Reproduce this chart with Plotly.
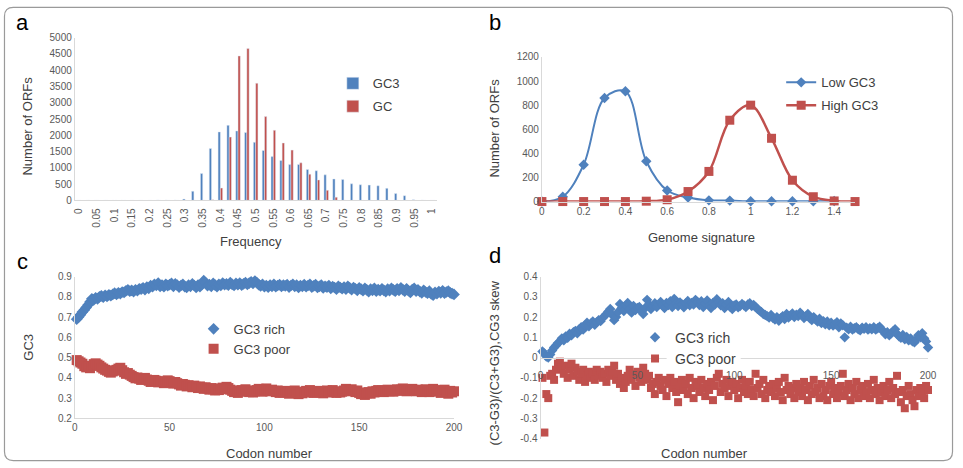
import plotly.graph_objects as go

W, H = 963, 468
def px(x): return x / W
def py(y): return 1 - y / H

BLUE = "#4F81BD"
RED = "#C0504D"
AX = "#D9D9D9"
TICK = "#595959"
TXT = "#404040"
FONT = "Liberation Sans, Arial, sans-serif"

# ---------------- panel a ----------------
freq_bins = [0, 0.025, 0.05, 0.075, 0.1, 0.125, 0.15, 0.175, 0.2, 0.225, 0.25, 0.275,
             0.3, 0.325, 0.35, 0.375, 0.4, 0.425, 0.45, 0.475, 0.5, 0.525, 0.55, 0.575,
             0.6, 0.625, 0.65, 0.675, 0.7, 0.725, 0.75, 0.775, 0.8, 0.825, 0.85, 0.875,
             0.9, 0.925, 0.95, 0.975, 1]
gc3_counts = [0, 0, 0, 0, 0, 0, 0, 0, 0, 10, 10, 10,
              40, 280, 825, 1595, 2105, 2305, 2135, 2085, 1785, 1535, 1345, 1225,
              1100, 1105, 950, 910, 785, 660, 640, 510, 480, 470, 450, 370,
              210, 145, 20, 10, 0]
gc_counts = [0, 0, 0, 0, 0, 0, 0, 0, 0, 0, 0, 0,
             0, 0, 5, 20, 380, 1945, 4440, 4670, 3600, 2575, 2155, 1765,
             1545, 1155, 805, 630, 310, 100, 5, 0, 0, 0, 0, 0,
             0, 0, 0, 0, 0]
freq_tick_vals = [0, 0.05, 0.1, 0.15, 0.2, 0.25, 0.3, 0.35, 0.4, 0.45, 0.5,
                  0.55, 0.6, 0.65, 0.7, 0.75, 0.8, 0.85, 0.9, 0.95, 1]
freq_tick_text = ["0", "0.05", "0.1", "0.15", "0.2", "0.25", "0.3", "0.35", "0.4", "0.45", "0.5",
                  "0.55", "0.6", "0.65", "0.7", "0.75", "0.8", "0.85", "0.9", "0.95", "1"]

# ---------------- panel b ----------------
signature = [0, 0.1, 0.2, 0.3, 0.4, 0.5, 0.6, 0.7, 0.8, 0.9, 1.0, 1.1, 1.2, 1.3, 1.4, 1.5]
low_gc3 = [0, 40, 305, 860, 915, 335, 92, 33, 10, 8, 2, 3, 2, 3, 5]
high_gc3 = [0, 0, 0, 0, 0, 3, 15, 83, 250, 675, 800, 525, 177, 40, 5, 0]
sig_tick_vals = [0, 0.2, 0.4, 0.6, 0.8, 1.0, 1.2, 1.4]
sig_tick_text = ["0", "0.2", "0.4", "0.6", "0.8", "1", "1.2", "1.4"]

# ---------------- panel c ----------------
codon = list(range(1, 201))
gc3_rich = [
    0.690, 0.700, 0.712, 0.725, 0.735, 0.748, 0.760, 0.775, 0.790, 0.785,
    0.795, 0.790, 0.800, 0.805, 0.798, 0.808, 0.802, 0.810, 0.806, 0.812,
    0.818, 0.812, 0.820, 0.816, 0.824, 0.822, 0.830, 0.834, 0.828, 0.832,
    0.826, 0.835, 0.830, 0.840, 0.838, 0.845, 0.836, 0.848, 0.842, 0.855,
    0.850, 0.862, 0.856, 0.868, 0.852, 0.858, 0.850, 0.862, 0.855, 0.860,
    0.866, 0.852, 0.864, 0.858, 0.848, 0.856, 0.862, 0.850, 0.846, 0.858,
    0.852, 0.864, 0.856, 0.846, 0.858, 0.850, 0.862, 0.880, 0.870, 0.855,
    0.860, 0.852, 0.866, 0.858, 0.850, 0.862, 0.856, 0.868, 0.860, 0.864,
    0.858, 0.870, 0.862, 0.856, 0.866, 0.860, 0.868, 0.858, 0.864, 0.870,
    0.862, 0.868, 0.874, 0.866, 0.878, 0.870, 0.860, 0.854, 0.862, 0.850,
    0.856, 0.848, 0.858, 0.852, 0.862, 0.850, 0.856, 0.860, 0.852, 0.858,
    0.854, 0.860, 0.848, 0.856, 0.862, 0.852, 0.858, 0.846, 0.856, 0.852,
    0.860, 0.850, 0.856, 0.862, 0.848, 0.854, 0.860, 0.846, 0.852, 0.858,
    0.844, 0.852, 0.848, 0.856, 0.842, 0.850, 0.846, 0.838, 0.852, 0.846,
    0.840, 0.848, 0.838, 0.852, 0.844, 0.836, 0.846, 0.840, 0.832, 0.844,
    0.838, 0.830, 0.842, 0.834, 0.826, 0.838, 0.832, 0.842, 0.828, 0.836,
    0.830, 0.840, 0.832, 0.826, 0.838, 0.830, 0.842, 0.834, 0.828, 0.840,
    0.832, 0.844, 0.836, 0.828, 0.840, 0.830, 0.822, 0.836, 0.842, 0.828,
    0.834, 0.826, 0.820, 0.832, 0.824, 0.818, 0.828, 0.814, 0.808, 0.822,
    0.816, 0.826, 0.820, 0.830, 0.818, 0.824, 0.828, 0.820, 0.816, 0.812]
gc3_poor = [
    0.488, 0.482, 0.476, 0.470, 0.458, 0.452, 0.455, 0.448, 0.460, 0.468,
    0.472, 0.466, 0.460, 0.452, 0.446, 0.440, 0.436, 0.430, 0.426, 0.432,
    0.436, 0.440, 0.446, 0.450, 0.438, 0.428, 0.420, 0.424, 0.416, 0.410,
    0.404, 0.398, 0.402, 0.396, 0.390, 0.396, 0.400, 0.392, 0.386, 0.380,
    0.384, 0.390, 0.386, 0.378, 0.384, 0.380, 0.374, 0.382, 0.388, 0.384,
    0.378, 0.372, 0.380, 0.374, 0.368, 0.362, 0.370, 0.366, 0.358, 0.364,
    0.360, 0.354, 0.362, 0.356, 0.350, 0.358, 0.352, 0.346, 0.354, 0.348,
    0.342, 0.350, 0.344, 0.338, 0.346, 0.340, 0.348, 0.352, 0.344, 0.356,
    0.350, 0.342, 0.336, 0.330, 0.338, 0.326, 0.334, 0.340, 0.332, 0.344,
    0.336, 0.330, 0.338, 0.328, 0.334, 0.340, 0.346, 0.338, 0.332, 0.342,
    0.348, 0.340, 0.334, 0.342, 0.336, 0.330, 0.338, 0.326, 0.334, 0.328,
    0.336, 0.330, 0.322, 0.334, 0.328, 0.338, 0.326, 0.320, 0.332, 0.324,
    0.330, 0.336, 0.328, 0.340, 0.332, 0.326, 0.334, 0.328, 0.336, 0.330,
    0.324, 0.332, 0.338, 0.328, 0.334, 0.340, 0.330, 0.326, 0.334, 0.328,
    0.332, 0.338, 0.346, 0.340, 0.334, 0.344, 0.336, 0.330, 0.338, 0.326,
    0.320, 0.328, 0.316, 0.324, 0.330, 0.322, 0.334, 0.328, 0.336, 0.340,
    0.332, 0.338, 0.330, 0.336, 0.342, 0.334, 0.340, 0.332, 0.338, 0.344,
    0.336, 0.342, 0.348, 0.340, 0.334, 0.344, 0.338, 0.346, 0.340, 0.334,
    0.342, 0.336, 0.330, 0.338, 0.344, 0.336, 0.330, 0.340, 0.346, 0.338,
    0.332, 0.340, 0.326, 0.334, 0.342, 0.330, 0.322, 0.336, 0.328, 0.334]

# ---------------- panel d ----------------
skew_rich = [
    0.030, 0.020, 0.005, 0.000, 0.015, 0.035, 0.050, 0.060, 0.072, 0.080,
    0.095, 0.085, 0.105, 0.098, 0.118, 0.110, 0.125, 0.132, 0.120, 0.140,
    0.150, 0.138, 0.160, 0.172, 0.155, 0.168, 0.178, 0.162, 0.175, 0.185,
    0.180, 0.195, 0.205, 0.215, 0.228, 0.240, 0.210, 0.185, 0.200, 0.225,
    0.265, 0.245, 0.230, 0.258, 0.270, 0.240, 0.222, 0.255, 0.235, 0.245,
    0.250, 0.228, 0.215, 0.245, 0.285, 0.262, 0.240, 0.255, 0.268, 0.250,
    0.262, 0.275, 0.258, 0.245, 0.270, 0.260, 0.278, 0.250, 0.290, 0.268,
    0.255, 0.272, 0.262, 0.248, 0.268, 0.280, 0.258, 0.270, 0.262, 0.285,
    0.275, 0.260, 0.278, 0.250, 0.268, 0.282, 0.258, 0.245, 0.270, 0.262,
    0.288, 0.275, 0.258, 0.268, 0.245, 0.262, 0.275, 0.250, 0.240, 0.258,
    0.262, 0.248, 0.255, 0.265, 0.258, 0.250, 0.262, 0.268, 0.255, 0.260,
    0.250, 0.240, 0.232, 0.225, 0.215, 0.210, 0.205, 0.198, 0.210, 0.195,
    0.188, 0.200, 0.182, 0.195, 0.205, 0.190, 0.215, 0.198, 0.208, 0.218,
    0.200, 0.212, 0.205, 0.222, 0.210, 0.195, 0.205, 0.215, 0.195, 0.185,
    0.200, 0.188, 0.178, 0.192, 0.170, 0.180, 0.165, 0.178, 0.160, 0.172,
    0.158, 0.165, 0.175, 0.150, 0.168, 0.160, 0.100, 0.148, 0.140, 0.152,
    0.138, 0.145, 0.150, 0.140, 0.135, 0.148, 0.142, 0.150, 0.138, 0.145,
    0.140, 0.150, 0.138, 0.145, 0.152, 0.140, 0.128, 0.115, 0.125, 0.110,
    0.120, 0.130, 0.140, 0.118, 0.105, 0.098, 0.112, 0.090, 0.102, 0.085,
    0.095, 0.080, 0.075, 0.090, 0.110, 0.100, 0.120, 0.095, 0.080, 0.050]
skew_poor = [
    -0.100, -0.370, -0.180, -0.200, -0.090, -0.080, -0.110, -0.060, -0.030, -0.020,
    -0.050, -0.080, -0.040, -0.100, -0.060, -0.030, -0.090, -0.050, -0.070, -0.110,
    -0.080, -0.060, -0.120, -0.090, -0.070, -0.100, -0.080, -0.110, -0.060, -0.090,
    -0.070, -0.100, -0.080, -0.120, -0.060, -0.090, -0.070, -0.040, -0.110, -0.080,
    -0.130, -0.100, -0.150, -0.120, -0.090, -0.060, -0.110, -0.080, -0.140, -0.070,
    -0.100, -0.120, -0.050, -0.080, -0.110, -0.090, -0.150, -0.130, -0.180, -0.120,
    -0.100, -0.140, -0.160, -0.110, -0.190, -0.130, -0.100, -0.150, -0.120, -0.170,
    -0.220, -0.140, -0.110, -0.160, -0.130, -0.180, -0.100, -0.150, -0.200, -0.120,
    -0.140, -0.170, -0.110, -0.150, -0.190, -0.130, -0.160, -0.120, -0.210, -0.140,
    -0.100, -0.080, -0.170, -0.130, -0.150, -0.110, -0.190, -0.140, -0.120, -0.160,
    -0.130, -0.200, -0.150, -0.110, -0.170, -0.140, -0.180, -0.120, -0.160, -0.190,
    -0.080, -0.150, -0.130, -0.180, -0.110, -0.200, -0.160, -0.140, -0.170, -0.130,
    -0.190, -0.150, -0.120, -0.170, -0.210, -0.100, -0.160, -0.140, -0.180, -0.150,
    -0.200, -0.130, -0.170, -0.150, -0.190, -0.120, -0.160, -0.210, -0.140, -0.180,
    -0.110, -0.170, -0.150, -0.200, -0.130, -0.190, -0.160, -0.210, -0.140, -0.120,
    -0.180, -0.150, -0.200, -0.170, -0.140, -0.080, -0.190, -0.160, -0.130, -0.210,
    -0.150, -0.180, -0.120, -0.200, -0.160, -0.140, -0.190, -0.170, -0.130, -0.200,
    -0.160, -0.110, -0.180, -0.150, -0.210, -0.170, -0.140, -0.190, -0.160, -0.120,
    -0.200, -0.150, -0.180, -0.090, -0.170, -0.220, -0.160, -0.250, -0.190, -0.140,
    -0.180, -0.210, -0.240, -0.160, -0.190, -0.150, -0.170, -0.200, -0.140, -0.160]
skew_tick_vals = [-0.4, -0.3, -0.2, -0.1, 0, 0.1, 0.2, 0.3, 0.4]
skew_tick_text = ["-0.4", "-0.3", "-0.2", "-0.1", "0", "0.1", "0.2", "0.3", "0.4"]
gc3_tick_vals = [0.2, 0.3, 0.4, 0.5, 0.6, 0.7, 0.8, 0.9]
gc3_tick_text = ["0.2", "0.3", "0.4", "0.5", "0.6", "0.7", "0.8", "0.9"]
codon_ticks = [0, 50, 100, 150, 200]

fig = go.Figure()

# a
fig.add_trace(go.Bar(x=freq_bins, y=gc3_counts, name="GC3", marker_color=BLUE,
                     xaxis="x", yaxis="y", legend="legend", legendgroup="a1"))
fig.add_trace(go.Bar(x=freq_bins, y=gc_counts, name="GC", marker_color=RED,
                     xaxis="x", yaxis="y", legend="legend", legendgroup="a2"))
# b
fig.add_trace(go.Scatter(x=signature[:len(low_gc3)], y=low_gc3, name="Low GC3", mode="lines+markers",
                         line=dict(color=BLUE, width=2, shape="spline", smoothing=1.0),
                         marker=dict(symbol="diamond", size=8, color=BLUE),
                         xaxis="x2", yaxis="y2", legend="legend2", legendgroup="b1", cliponaxis=False))
fig.add_trace(go.Scatter(x=signature, y=high_gc3, name="High GC3", mode="lines+markers",
                         line=dict(color=RED, width=2.5, shape="spline", smoothing=1.0),
                         marker=dict(symbol="square", size=9, color=RED),
                         xaxis="x2", yaxis="y2", legend="legend2", legendgroup="b2", cliponaxis=False))
# c
fig.add_trace(go.Scatter(x=codon, y=gc3_rich, name="GC3 rich", mode="markers",
                         marker=dict(symbol="diamond", size=9, color=BLUE),
                         xaxis="x3", yaxis="y3", legend="legend3", cliponaxis=False))
fig.add_trace(go.Scatter(x=codon, y=gc3_poor, name="GC3 poor", mode="markers",
                         marker=dict(symbol="square", size=10, color=RED),
                         xaxis="x3", yaxis="y3", legend="legend3", cliponaxis=False))
# d
fig.add_trace(go.Scatter(x=codon, y=skew_rich, name="GC3 rich", mode="markers",
                         marker=dict(symbol="diamond", size=8, color=BLUE),
                         xaxis="x4", yaxis="y4", legend="legend4", cliponaxis=False))
fig.add_trace(go.Scatter(x=codon, y=skew_poor, name="GC3 poor", mode="markers",
                         marker=dict(symbol="square", size=8, color=RED),
                         xaxis="x4", yaxis="y4", legend="legend4", cliponaxis=False))

tickfont = dict(family=FONT, size=10, color=TICK)
base_ax = dict(showline=True, linecolor=AX, linewidth=1, showgrid=False, zeroline=False,
               ticks="", tickfont=tickfont, fixedrange=True)

yd_d = [py(444), py(277.7)]
fig.update_layout(
    width=W, height=H, margin=dict(l=0, r=0, t=0, b=0),
    paper_bgcolor="white", plot_bgcolor="white",
    font=dict(family=FONT, color=TXT),
    barmode="group", bargap=0.48, bargroupgap=0,
    xaxis=dict(base_ax, domain=[px(72.7), px(439)], range=[-0.0125, 1.0125],
               tickmode="array", tickvals=freq_tick_vals, ticktext=freq_tick_text,
               tickangle=-90, anchor="y", ticklabelstandoff=3),
    yaxis=dict(base_ax, domain=[py(199.5), py(32.5)], range=[0, 5000], dtick=500,
               anchor="x"),
    xaxis2=dict(base_ax, domain=[px(545.7), px(862.8)], range=[0, 1.5],
                tickmode="array", tickvals=sig_tick_vals, ticktext=sig_tick_text, anchor="y2"),
    yaxis2=dict(base_ax, domain=[py(200.7), py(52.3)], range=[0, 1200], dtick=200,
                anchor="x2"),
    xaxis3=dict(base_ax, domain=[px(72.7), px(456.7)], range=[0, 200],
                tickmode="array", tickvals=codon_ticks, anchor="y3"),
    yaxis3=dict(base_ax, domain=[py(423.3), py(277.7)], range=[0.2, 0.9],
                tickmode="array", tickvals=gc3_tick_vals, ticktext=gc3_tick_text, anchor="x3"),
    xaxis4=dict(base_ax, domain=[px(544.3), px(936.7)], range=[0, 200],
                tickmode="array", tickvals=codon_ticks, anchor="free",
                position=(yd_d[0] + yd_d[1]) / 2, ticklabelstandoff=8),
    yaxis4=dict(base_ax, domain=yd_d, range=[-0.4, 0.4],
                tickmode="array", tickvals=skew_tick_vals, ticktext=skew_tick_text, anchor="x4"),
    legend=dict(x=px(334), y=py(64), xanchor="left", yanchor="top", tracegroupgap=3,
                font=dict(family=FONT, size=13, color=TXT), bgcolor="rgba(0,0,0,0)"),
    legend2=dict(x=px(788), y=py(63), xanchor="left", yanchor="top", tracegroupgap=3,
                 font=dict(family=FONT, size=13, color=TXT), bgcolor="rgba(0,0,0,0)"),
    legend3=dict(x=px(193), y=py(316), xanchor="left", yanchor="top",
                 font=dict(family=FONT, size=13, color=TXT), bgcolor="rgba(0,0,0,0)"),
    legend4=dict(x=px(640), y=py(324), xanchor="left", yanchor="top",
                 font=dict(family=FONT, size=14, color=TXT), bgcolor="rgba(0,0,0,0)"),
)

# axis titles and panel letters
title_font = dict(family=FONT, size=13, color=TXT)
ann = [
    dict(text="Frequency", x=px(251), y=py(242)),
    dict(text="Number of ORFs", x=px(25), y=py(123), textangle=-90),
    dict(text="Genome signature", x=px(707), y=py(238)),
    dict(text="Number of ORFs", x=px(498), y=py(125), textangle=-90),
    dict(text="Codon number", x=px(270), y=py(459)),
    dict(text="GC3", x=px(25), y=py(350), textangle=-90),
    dict(text="Codon number", x=px(710), y=py(459)),
    dict(text="(C3-G3)/(C3+G3),CG3 skew", x=px(498), y=py(366), textangle=-90),
]
for a in ann:
    fig.add_annotation(xref="paper", yref="paper", showarrow=False,
                       xanchor="center", yanchor="middle", font=title_font, **a)
letter_font = dict(family=FONT, size=22, color="black")
for t, x, y in [("a", 20, 17), ("b", 498, 17), ("c", 20, 262), ("d", 498, 256)]:
    fig.add_annotation(text=t, xref="paper", yref="paper", x=px(x), y=py(y),
                       showarrow=False, xanchor="center", yanchor="middle", font=letter_font)

# white patch behind the panel-d legend, hiding the zero line there
fig.add_shape(type="rect", xref="paper", yref="paper",
              x0=px(672), x1=px(747), y0=py(366), y1=py(355),
              fillcolor="white", line=dict(width=0), layer="above")

# rounded outer frame
x0, y0, x1, y1, r = 1.5, 1.5, 961.5, 466.5, 9
path = (f"M {px(x0 + r)},{py(y0)} L {px(x1 - r)},{py(y0)} Q {px(x1)},{py(y0)} {px(x1)},{py(y0 + r)} "
        f"L {px(x1)},{py(y1 - r)} Q {px(x1)},{py(y1)} {px(x1 - r)},{py(y1)} "
        f"L {px(x0 + r)},{py(y1)} Q {px(x0)},{py(y1)} {px(x0)},{py(y1 - r)} "
        f"L {px(x0)},{py(y0 + r)} Q {px(x0)},{py(y0)} {px(x0 + r)},{py(y0)} Z")
fig.add_shape(type="path", path=path, xref="paper", yref="paper",
              line=dict(color="#9A9A9A", width=1.2), fillcolor="rgba(0,0,0,0)", layer="above")

fig.write_html("out.html")
